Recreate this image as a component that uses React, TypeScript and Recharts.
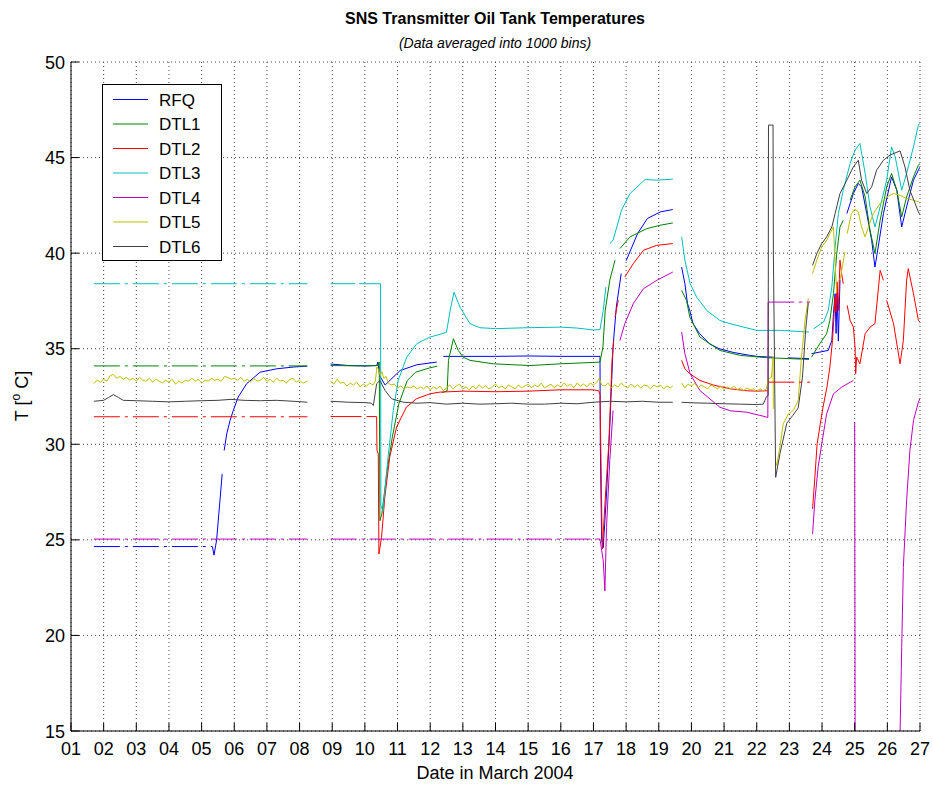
import React from "react"
import { CartesianGrid, Legend, Line, LineChart, XAxis, YAxis } from "recharts"

type Pt = [number, number | null]

const FONT = "'Liberation Sans', Arial, Helvetica, sans-serif"

const DAY_TICKS = [1, 2, 3, 4, 5, 6, 7, 8, 9, 10, 11, 12, 13, 14, 15, 16, 17, 18, 19, 20, 21, 22, 23, 24, 25, 26, 27]
const TEMP_TICKS = [15, 20, 25, 30, 35, 40, 45, 50]

// RFQ
const rfqFlat: Pt[][] = [[[1.7, 24.65], [5.33, 24.65]]]
const rfqData: Pt[] = [
  [5.33, 24.65], [5.38, 24.2], [5.46, 25.0], [5.63, 28.45], [5.66, null], [5.69, 29.67], [5.77, 30.55],
  [5.87, 31.24], [5.97, 31.77], [6.12, 32.47], [6.38, 33.17], [6.79, 33.77], [7.3, 33.95], [7.8, 34.04],
  [8.23, 34.09], [8.5, null], [8.95, 34.2], [9.5, 34.12], [10.0, 34.1], [10.36, 34.12], [10.4, 34.3],
  [10.45, 33.6], [10.62, 33.1], [10.8, 33.4], [11.08, 33.86], [11.59, 34.16], [12.2, 34.3], [12.3, null],
  [12.4, 34.6], [13, 34.6], [14, 34.6], [15, 34.62], [16, 34.6], [17.2, 34.6], [17.21, 30], [17.25, 25.0],
  [17.3, 24.6], [17.4, 27.4], [17.5, 30.9], [17.6, 35.1], [17.7, 37.18], [17.85, 38.93], [17.9, null],
  [18.0, 39.6], [18.35, 41.02], [18.65, 41.81], [19.05, 42.16], [19.43, 42.28], [19.55, null],
  [19.7, 39.27], [19.8, 38.4], [19.88, 37.36], [19.95, 37.0], [20.05, 36.31], [20.25, 35.79],
  [20.55, 35.26], [20.85, 35.0], [21.3, 34.8], [21.8, 34.65], [22.0, 34.6], [22.55, 34.55], [22.6, null],
  [22.95, 34.52], [23.6, 34.48], [23.64, null], [23.68, 34.74], [24.19, 34.91], [24.3, 35.43],
  [24.35, 36.83], [24.4, 37.88], [24.43, 35.8], [24.46, 38.1], [24.5, 35.4], [24.55, 38.6], [24.6, null],
  [24.76, 42.07], [24.96, 43.12], [25.11, 43.64], [25.21, 43.47], [25.37, 42.07], [25.52, 40.67],
  [25.62, 39.27], [25.72, 40.32], [25.88, 42.07], [26.13, 43.99], [26.29, 43.29], [26.44, 41.37],
  [26.59, 42.42], [26.8, 43.82], [26.95, 44.34], [27, 44.5],
]

// DTL1
const dtl1Flat: Pt[][] = [[[1.7, 34.1], [8.24, 34.1]]]
const dtl1Data: Pt[] = [
  [8.95, 34.12], [10.0, 34.1], [10.4, 34.12], [10.44, 34.3], [10.46, 26.0], [10.52, 26.35],
  [10.68, 28.62], [10.84, 30.37], [11.04, 32.12], [11.3, 33.34], [11.55, 33.77], [11.99, 34.0],
  [12.22, 34.09], [12.3, null], [12.36, 32.7], [12.52, 32.8], [12.56, 34.39], [12.71, 35.52],
  [12.86, 34.91], [13.01, 34.56], [13.22, 34.39], [13.94, 34.21], [15.05, 34.12], [16.0, 34.21],
  [17.2, 34.3], [17.29, 35.09], [17.36, 37.0], [17.5, 38.58], [17.66, 39.63], [17.75, null],
  [17.81, 40.24], [18.12, 40.85], [18.63, 41.28], [19.04, 41.46], [19.43, 41.58], [19.55, null],
  [19.7, 38.05], [19.85, 37.53], [19.95, 36.66], [20.26, 35.61], [20.87, 34.91], [21.5, 34.65],
  [22.3, 34.53], [23.6, 34.44], [23.64, null], [23.68, 34.56], [23.93, 35.26], [24.14, 35.78],
  [24.24, 36.48], [24.35, 37.88], [24.45, 39.98], [24.55, 41.37], [24.65, 41.72], [24.7, null],
  [24.86, 42.77], [25.01, 43.47], [25.16, 43.82], [25.32, 42.94], [25.47, 41.2], [25.62, 39.98],
  [25.78, 41.72], [25.98, 43.47], [26.13, 44.17], [26.29, 43.29], [26.44, 41.9], [26.59, 42.94],
  [26.8, 43.99], [26.95, 44.6], [27, 44.7],
]

// DTL2
const dtl2Flat: Pt[][] = [[[1.7, 31.44], [8.24, 31.44]], [[22.35, 33.25], [23.63, 33.25]]]
const dtl2Data: Pt[] = [
  [8.95, 31.45], [9.9, 31.45], [9.95, null], [10.05, 31.45], [10.36, 31.45], [10.37, 29.7],
  [10.41, 29.5], [10.43, 24.26], [10.51, 25.13], [10.61, 27.22], [10.76, 29.32], [10.97, 30.9],
  [11.27, 31.94], [11.58, 32.38], [11.99, 32.64], [12.3, 32.73], [13.02, 32.78], [14.0, 32.75],
  [15.0, 32.78], [16.0, 32.85], [17.0, 32.85], [17.16, 32.8], [17.2, 32.6], [17.27, 24.52],
  [17.37, 27.4], [17.47, 30.02], [17.57, 34.39], [17.62, 35.43], [17.64, null], [17.66, 36.66],
  [17.76, 37.53], [17.8, null], [17.96, 38.75], [18.22, 39.45], [18.53, 40.15], [18.94, 40.41],
  [19.43, 40.5], [19.55, null], [19.7, 34.39], [19.8, 33.95], [19.95, 33.69], [20.26, 33.34],
  [20.67, 33.1], [21.2, 32.9], [21.7, 32.8], [22.0, 32.78], [22.33, 32.8], [22.5, null],
  [23.71, 26.62], [23.78, 28.27], [23.85, 30.02], [23.93, 30.9], [24.03, 31.94], [24.15, 32.99],
  [24.24, 34.04], [24.32, 35.43], [24.37, 36.83], [24.4, 37.7], [24.43, 36.9], [24.46, 38.5],
  [24.5, 37.0], [24.55, 39.63], [24.6, 38.93], [24.65, 38.4], [24.7, null], [24.77, 37.27],
  [24.86, 36.48], [24.96, 36.13], [25.01, 35.09], [25.03, 33.69], [25.06, 34.56], [25.16, 34.21],
  [25.32, 35.78], [25.47, 36.13], [25.62, 36.31], [25.78, 39.1], [25.88, 38.58], [25.93, null],
  [25.98, 37.53], [26.19, 36.31], [26.39, 34.21], [26.49, 35.43], [26.59, 38.58], [26.64, 39.19],
  [26.8, 37.88], [26.95, 36.48], [27, 36.4],
]

// DTL3
const dtl3Flat: Pt[][] = [[[1.7, 38.4], [8.24, 38.4]]]
const dtl3Data: Pt[] = [
  [8.95, 38.4], [9.7, 38.4], [9.75, null], [9.82, 38.4], [10.48, 38.4], [10.49, 26.8], [10.55, 26.5],
  [10.62, 27.75], [10.72, 29.5], [10.87, 31.77], [11.02, 33.34], [11.28, 34.56], [11.59, 35.26],
  [11.99, 35.61], [12.3, 35.75], [12.5, 35.87], [12.61, 37.0], [12.73, 37.96], [12.91, 37.18],
  [13.22, 36.31], [13.52, 36.1], [14.0, 36.05], [15.0, 36.1], [16.0, 36.13], [16.5, 36.08],
  [17.0, 35.98], [17.2, 36.0], [17.3, 37.0], [17.38, 38.23], [17.42, null], [17.5, 40.5],
  [17.6, 40.67], [17.86, 42.25], [18.12, 43.12], [18.58, 43.85], [18.94, 43.82], [19.43, 43.87],
  [19.55, null], [19.7, 40.85], [19.8, 39.63], [19.96, 38.4], [20.16, 37.7], [20.47, 37.0],
  [20.87, 36.48], [21.18, 36.31], [22.0, 35.96], [22.7, 35.96], [23.6, 35.87], [23.64, null],
  [23.74, 36.04], [24.05, 36.4], [24.19, 37.0], [24.3, 38.23], [24.4, 40.32], [24.5, 42.07],
  [24.65, 43.29], [24.86, 44.69], [25.01, 45.39], [25.16, 45.74], [25.32, 44.17], [25.47, 42.42],
  [25.62, 41.37], [25.78, 42.42], [25.98, 43.82], [26.13, 45.56], [26.24, 45.04], [26.44, 43.29],
  [26.59, 44.17], [26.8, 45.56], [26.95, 46.7], [27, 46.8],
]

// DTL4
const dtl4Flat: Pt[][] = [[[1.7, 25.04], [8.24, 25.04]], [[8.95, 25.04], [17.1, 25.04]], [[22.35, 37.44], [23.63, 37.44]]]
const dtl4Data: Pt[] = [
  [17.1, 25.04], [17.2, 25.04], [17.3, 23.9], [17.35, 22.33], [17.4, 25.65], [17.5, 29.15],
  [17.6, 31.77], [17.65, null], [17.81, 35.43], [17.96, 36.31], [18.22, 37.36], [18.53, 38.14],
  [18.94, 38.58], [19.43, 39.01], [19.55, null], [19.7, 35.87], [19.8, 34.74], [19.96, 33.69],
  [20.26, 32.81], [20.87, 31.94], [21.2, 31.75], [21.69, 31.68], [22.2, 31.47], [22.34, 31.4],
  [22.35, 37.44], [22.4, null], [23.71, 25.3], [23.78, 27.05], [23.88, 28.8], [23.98, 29.9],
  [24.14, 31.59], [24.35, 32.64], [24.6, 32.99], [24.96, 33.34], [24.98, null], [25.0, 31.15],
  [25.02, 5], [26.3, 5], [26.39, 15], [26.44, 19.37], [26.49, 23.56], [26.59, 27.05], [26.69, 29.67],
  [26.8, 31.24], [26.95, 32.2], [27, 32.4],
]

// DTL5
const dtl5Data: Pt[] = [
  [1.7, 33.2], [1.8, 33.35], [1.9, 33.25], [2.0, 33.4], [2.1, 33.3], [2.2, 33.6], [2.3, 33.65],
  [2.4, 33.45], [2.5, 33.55], [2.6, 33.4], [2.7, 33.5], [2.8, 33.35], [2.9, 33.45], [3.0, 33.3],
  [3.1, 33.5], [3.2, 33.35], [3.3, 33.3], [3.4, 33.45], [3.5, 33.25], [3.6, 33.4], [3.7, 33.3],
  [3.8, 33.2], [3.9, 33.35], [4.0, 33.25], [4.1, 33.4], [4.2, 33.15], [4.3, 33.3], [4.4, 33.2],
  [4.5, 33.35], [4.6, 33.3], [4.7, 33.45], [4.8, 33.3], [4.9, 33.4], [5.0, 33.2], [5.1, 33.35],
  [5.2, 33.3], [5.3, 33.45], [5.4, 33.35], [5.5, 33.4], [5.6, 33.3], [5.7, 33.55], [5.8, 33.5],
  [5.9, 33.4], [6.0, 33.45], [6.1, 33.35], [6.2, 33.5], [6.3, 33.3], [6.4, 33.4], [6.5, 33.25],
  [6.6, 33.45], [6.7, 33.3], [6.8, 33.35], [6.9, 33.5], [7.0, 33.3], [7.1, 33.4], [7.2, 33.25],
  [7.3, 33.45], [7.4, 33.3], [7.5, 33.35], [7.6, 33.2], [7.7, 33.4], [7.8, 33.45], [7.9, 33.25],
  [8.0, 33.35], [8.1, 33.2], [8.24, 33.3], [8.5, null],
  [8.95, 33.3], [9.05, 33.15], [9.15, 33.4], [9.25, 33.2], [9.35, 33.25], [9.45, 33.05], [9.55, 33.2],
  [9.65, 33.1], [9.75, 33.25], [9.85, 33.0], [9.95, 33.15], [10.05, 33.05], [10.15, 33.2],
  [10.25, 33.1], [10.32, 33.3], [10.37, 34.05], [10.42, 33.9], [10.47, 33.6], [10.52, 33.8],
  [10.58, 33.45], [10.65, 33.55], [10.72, 33.2], [10.8, 33.1], [10.9, 33.15], [11.0, 32.95],
  [11.1, 33.05], [11.2, 32.9], [11.3, 33.0], [11.4, 32.95], [11.5, 33.05], [11.6, 32.9], [11.7, 33.0],
  [11.8, 32.9], [11.9, 33.05], [12.0, 32.85], [12.1, 33.0], [12.2, 32.9], [12.3, 33.05], [12.4, 32.8],
  [12.5, 32.95], [12.6, 33.1], [12.7, 32.9], [12.8, 33.05], [12.9, 33.15], [13.0, 32.9], [13.1, 33.0],
  [13.2, 32.85], [13.3, 33.05], [13.4, 32.9], [13.5, 33.1], [13.6, 32.95], [13.7, 33.05], [13.8, 32.9],
  [13.9, 33.0], [14.0, 33.15], [14.1, 32.95], [14.2, 33.05], [14.3, 32.9], [14.4, 33.1], [14.5, 33.0],
  [14.6, 32.9], [14.7, 33.1], [14.8, 32.95], [14.9, 33.05], [15.0, 33.15], [15.1, 32.95], [15.2, 33.1],
  [15.3, 33.0], [15.4, 33.2], [15.5, 32.95], [15.6, 33.05], [15.7, 33.15], [15.8, 32.95], [15.9, 33.1],
  [16.0, 33.0], [16.1, 33.2], [16.2, 33.05], [16.3, 33.15], [16.4, 32.95], [16.5, 33.2], [16.6, 33.05],
  [16.7, 33.15], [16.8, 33.0], [16.9, 33.2], [17.0, 33.1], [17.1, 33.25], [17.18, 33.45], [17.25, 33.1],
  [17.35, 33.05], [17.45, 33.2], [17.55, 32.95], [17.65, 33.1], [17.75, 33.0], [17.85, 33.2],
  [17.95, 33.05], [18.05, 32.95], [18.15, 33.15], [18.25, 33.0], [18.35, 33.1], [18.45, 32.95],
  [18.55, 33.1], [18.65, 33.05], [18.75, 32.9], [18.85, 33.1], [18.95, 33.0], [19.05, 33.1],
  [19.15, 32.9], [19.25, 33.05], [19.35, 32.95], [19.43, 33.05], [19.55, null],
  [19.7, 33.2], [19.8, 32.95], [19.9, 33.15], [20.0, 33.05], [20.1, 33.2], [20.2, 32.95], [20.3, 33.1],
  [20.4, 33.0], [20.5, 32.9], [20.6, 33.1], [20.7, 33.0], [20.8, 32.9], [20.9, 33.05], [21.0, 32.85],
  [21.1, 33.0], [21.2, 32.9], [21.3, 33.05], [21.4, 32.85], [21.5, 32.95], [21.6, 32.8], [21.7, 32.95],
  [21.8, 32.85], [21.9, 32.9], [22.0, 32.75], [22.1, 32.9], [22.2, 32.8], [22.3, 32.9], [22.35, 33.4],
  [22.45, 33.5], [22.5, 34.56], [22.51, 31.85], [22.53, null], [22.57, 29.15], [22.61, 28.89],
  [22.71, 29.85], [22.81, 31.07], [22.97, 31.59], [23.12, 31.77], [23.27, 32.29], [23.37, 34.56],
  [23.48, 36.48], [23.58, 37.62], [23.64, null], [23.71, 38.93], [23.84, 39.63], [23.99, 40.32],
  [24.14, 40.67], [24.24, 41.02], [24.35, 41.37], [24.4, 39.5], [24.45, 37.9], [24.5, null],
  [24.55, 38.58], [24.7, 40.06], [24.74, null], [24.77, 41.02], [24.9, 42.07], [25.0, 42.3],
  [25.11, 42.16], [25.21, 41.37], [25.32, 40.85], [25.42, 41.37], [25.57, 42.07], [25.78, 42.6],
  [25.98, 42.94], [26.19, 43.12], [26.39, 43.03], [26.59, 42.86], [26.8, 42.77], [26.95, 42.68],
  [27, 42.6],
]

// DTL6
const dtl6Data: Pt[] = [
  [1.7, 32.25], [2.0, 32.3], [2.15, 32.45], [2.3, 32.6], [2.45, 32.45], [2.6, 32.3], [3.0, 32.28],
  [3.5, 32.25], [4.0, 32.22], [4.5, 32.25], [5.0, 32.28], [5.5, 32.3], [5.9, 32.35], [6.3, 32.3],
  [6.8, 32.28], [7.3, 32.3], [7.8, 32.25], [8.24, 32.2], [8.5, null],
  [8.95, 32.25], [9.5, 32.2], [10.0, 32.18], [10.2, 32.15], [10.26, 32.03], [10.36, 33.17],
  [10.46, 33.34], [10.62, 32.81], [10.82, 32.38], [11.18, 32.2], [11.6, 32.15], [12.0, 32.18],
  [12.5, 32.1], [13.0, 32.15], [13.5, 32.1], [14.0, 32.12], [14.5, 32.15], [15.0, 32.1], [15.5, 32.1],
  [16.0, 32.15], [16.5, 32.12], [17.0, 32.2], [17.5, 32.25], [18.0, 32.22], [18.5, 32.25],
  [19.0, 32.2], [19.43, 32.2], [19.55, null],
  [19.7, 32.2], [20.0, 32.17], [20.5, 32.15], [21.0, 32.12], [21.5, 32.1], [22.0, 32.08], [22.2, 32.1],
  [22.3, 32.5], [22.35, 32.55], [22.36, 46.7], [22.5, 46.7], [22.51, 40.0], [22.58, 28.27],
  [22.71, 29.5], [22.92, 31.1], [23.1, 31.5], [23.27, 31.9], [23.4, 33.5], [23.5, 36.0], [23.58, 37.4],
  [23.64, null], [23.71, 39.36], [23.84, 39.98], [23.99, 40.5], [24.14, 40.85], [24.3, 41.37],
  [24.4, 42.07], [24.55, 43.12], [24.76, 43.82], [24.96, 44.51], [25.11, 44.86], [25.21, 43.82],
  [25.37, 43.12], [25.52, 43.47], [25.67, 44.34], [25.88, 44.86], [26.08, 45.13], [26.39, 45.35],
  [26.54, 44.51], [26.69, 43.29], [26.85, 42.6], [26.95, 42.16], [27, 42.0],
]

const SERIES = [
  { name: "RFQ", color: "#0000ff", data: rfqData, flat: rfqFlat },
  { name: "DTL1", color: "#008000", data: dtl1Data, flat: dtl1Flat },
  { name: "DTL2", color: "#ff0000", data: dtl2Data, flat: dtl2Flat },
  { name: "DTL3", color: "#00bfbf", data: dtl3Data, flat: dtl3Flat },
  { name: "DTL4", color: "#bf00bf", data: dtl4Data, flat: dtl4Flat },
  { name: "DTL5", color: "#bfbf00", data: dtl5Data, flat: [] as Pt[][] },
  { name: "DTL6", color: "#404040", data: dtl6Data, flat: [] as Pt[][] },
]

const toRows = (pts: Pt[]) => pts.map(([d, t]) => ({ d, t }))
const pad = (v: number) => String(v).padStart(2, "0")

const BottomTick = ({ x, y, payload }: any) => (
  <g>
    <line x1={x} y1={y} x2={x} y2={y - 8} stroke="#000" />
    <text x={x} y={y + 24} textAnchor="middle" fontSize={18} fontFamily={FONT} fill="#000">
      {pad(payload.value)}
    </text>
  </g>
)
const TopTick = ({ x, y }: any) => <line x1={x} y1={y} x2={x} y2={y + 8} stroke="#000" />
const LeftTick = ({ x, y, payload }: any) => (
  <g>
    <line x1={x} y1={y} x2={x + 8} y2={y} stroke="#000" />
    <text x={x - 6} y={y + 6.5} textAnchor="end" fontSize={18} fontFamily={FONT} fill="#000">
      {payload.value}
    </text>
  </g>
)
const RightTick = ({ x, y }: any) => <line x1={x} y1={y} x2={x - 8} y2={y} stroke="#000" />

const LegendBox = () => (
  <svg width={120} height={177} style={{ display: "block" }}>
    <rect x={0.5} y={0.5} width={119} height={176} fill="#fff" stroke="#000" />
    {SERIES.map((s, i) => (
      <g key={s.name}>
        <line x1={11} x2={46} y1={15.5 + i * 24.5} y2={15.5 + i * 24.5} stroke={s.color} strokeWidth={1} />
        <text x={57} y={21.5 + i * 24.5} fontSize={17} fontFamily={FONT} fill="#000">
          {s.name}
        </text>
      </g>
    ))}
  </svg>
)

export default function App() {
  return (
    <div style={{ position: "absolute", left: 0, top: 0, width: 933, height: 787, background: "#fff" }}>
      <LineChart width={933} height={787} margin={{ top: 62, right: 13, bottom: 26, left: 11 }}>
        <CartesianGrid stroke="#444" strokeDasharray="1 3" />
        <XAxis
          dataKey="d"
          type="number"
          domain={[1, 27]}
          ticks={DAY_TICKS}
          interval={0}
          allowDataOverflow
          height={30}
          tickSize={0}
          tickMargin={0}
          tickLine={false}
          tick={<BottomTick />}
          stroke="#000"
        />
        <XAxis
          xAxisId="top"
          orientation="top"
          dataKey="d"
          type="number"
          domain={[1, 27]}
          ticks={DAY_TICKS}
          interval={0}
          allowDataOverflow
          height={0}
          tickSize={0}
          tickMargin={0}
          tickLine={false}
          tick={<TopTick />}
          stroke="#000"
        />
        <YAxis
          type="number"
          domain={[15, 50]}
          ticks={TEMP_TICKS}
          interval={0}
          allowDataOverflow
          width={60}
          tickSize={0}
          tickMargin={0}
          tickLine={false}
          tick={<LeftTick />}
          stroke="#000"
        />
        <YAxis
          yAxisId="right"
          orientation="right"
          type="number"
          domain={[15, 50]}
          ticks={TEMP_TICKS}
          interval={0}
          allowDataOverflow
          width={0}
          tickSize={0}
          tickMargin={0}
          tickLine={false}
          tick={<RightTick />}
          stroke="#000"
        />
        <Legend
          layout="vertical"
          align="center"
          verticalAlign="middle"
          content={() => <LegendBox />}
          wrapperStyle={{ position: "absolute", left: 102, top: 84, width: 120, height: 177 }}
        />
        {SERIES.map((s) => (
          <Line
            key={s.name}
            name={s.name}
            data={toRows(s.data)}
            dataKey="t"
            type="linear"
            stroke={s.color}
            strokeWidth={1}
            dot={false}
            activeDot={false}
            isAnimationActive={false}
          />
        ))}
        {SERIES.flatMap((s) =>
          s.flat.map((seg, j) => (
            <Line
              key={`${s.name}-flat-${j}`}
              name={s.name}
              legendType="none"
              data={toRows(seg)}
              dataKey="t"
              type="linear"
              stroke={s.color}
              strokeWidth={1}
              strokeDasharray="26 5 3 5"
              dot={false}
              activeDot={false}
              isAnimationActive={false}
            />
          ))
        )}
      </LineChart>
      <svg width={933} height={787} style={{ position: "absolute", left: 0, top: 0, pointerEvents: "none" }}>
        <text x={495} y={24} textAnchor="middle" fontSize={16} fontWeight="bold" fontFamily={FONT}>
          SNS Transmitter Oil Tank Temperatures
        </text>
        <text x={495} y={48} textAnchor="middle" fontSize={14} fontStyle="italic" fontFamily={FONT}>
          (Data averaged into 1000 bins)
        </text>
        <text x={495} y={779} textAnchor="middle" fontSize={18} fontFamily={FONT}>
          Date in March 2004
        </text>
        <text transform="translate(28,396) rotate(-90)" textAnchor="middle" fontSize={18} fontFamily={FONT}>
          T [<tspan fontSize={12} dy={-8}>o</tspan>
          <tspan dy={8}> C]</tspan>
        </text>
      </svg>
    </div>
  )
}
